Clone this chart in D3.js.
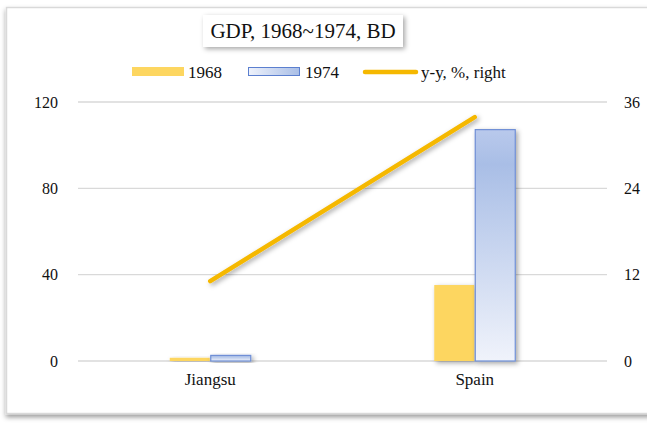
<!DOCTYPE html>
<html>
<head>
<meta charset="utf-8">
<script src="https://cdn.jsdelivr.net/npm/d3@7"></script>
</head>
<body style="margin:0;background:#fff">
<script>
// data
const categories = ['Jiangsu', 'Spain']
const gdp1968 = [1.5, 35.2]
const gdp1974 = [2.6, 107.2]
const yoy = [11.1, 33.9]
const leftTicks = [0, 40, 80, 120]
const rightTicks = [0, 12, 24, 36]

const width = 647
const height = 423
const serif = '"Liberation Serif"'

const svg = d3.select('body').append('svg')
  .attr('width', width)
  .attr('height', height)

const defs = svg.append('defs')

const shadow = defs.append('filter').attr('id', 'shadow')
  .attr('x', '-30%').attr('y', '-30%').attr('width', '160%').attr('height', '160%')
shadow.append('feDropShadow')
  .attr('dx', 2).attr('dy', 2).attr('stdDeviation', 2.5)
  .attr('flood-color', '#000').attr('flood-opacity', 0.35)

const frameShadow = defs.append('filter').attr('id', 'frameShadow')
  .attr('x', '-5%').attr('y', '-5%').attr('width', '110%').attr('height', '110%')
frameShadow.append('feDropShadow')
  .attr('dx', 0).attr('dy', 3).attr('stdDeviation', 2.5)
  .attr('flood-color', '#000').attr('flood-opacity', 0.4)

const blueGrad = defs.append('linearGradient').attr('id', 'blueGrad')
  .attr('x1', 0).attr('y1', 0).attr('x2', 0).attr('y2', 1)
blueGrad.append('stop').attr('offset', '0%').attr('stop-color', '#b9c9ec')
blueGrad.append('stop').attr('offset', '15%').attr('stop-color', '#a9bee6')
blueGrad.append('stop').attr('offset', '100%').attr('stop-color', '#f0f3fb')

const legendGrad = defs.append('linearGradient').attr('id', 'legendGrad')
  .attr('x1', 0).attr('y1', 0).attr('x2', 1).attr('y2', 0)
legendGrad.append('stop').attr('offset', '0%').attr('stop-color', '#eef2fb')
legendGrad.append('stop').attr('offset', '100%').attr('stop-color', '#a9bee6')

// frame
svg.append('rect')
  .attr('x', 6.5).attr('y', 7.5)
  .attr('width', 660).attr('height', 406)
  .attr('fill', '#fff')
  .attr('stroke', '#d9d9d9')
  .attr('stroke-width', 1.5)
  .attr('filter', 'url(#frameShadow)')

const margin = { left: 78, right: 40, top: 102, bottom: 62 }
const plotRight = width - margin.right
const plotBottom = height - margin.bottom

const x = d3.scaleBand().domain(categories).range([margin.left, plotRight])
const yLeft = d3.scaleLinear().domain([0, 120]).range([plotBottom, margin.top])
const yRight = d3.scaleLinear().domain([0, 36]).range([plotBottom, margin.top])

// gridlines
svg.append('g').selectAll('line').data(leftTicks).join('line')
  .attr('x1', margin.left).attr('x2', plotRight)
  .attr('y1', d => yLeft(d)).attr('y2', d => yLeft(d))
  .attr('stroke', '#d9d9d9').attr('stroke-width', 1.3)

// axes
const leftAxis = svg.append('g')
  .attr('transform', `translate(${margin.left - 20},0)`)
  .call(d3.axisLeft(yLeft).tickValues(leftTicks).tickSize(0).tickPadding(0))
leftAxis.select('.domain').remove()

const rightAxis = svg.append('g')
  .attr('transform', `translate(${plotRight + 17},0)`)
  .call(d3.axisRight(yRight).tickValues(rightTicks).tickSize(0).tickPadding(0))
rightAxis.select('.domain').remove()

const bottomAxis = svg.append('g')
  .attr('transform', `translate(0,${plotBottom})`)
  .call(d3.axisBottom(x).tickSize(0).tickPadding(12))
bottomAxis.select('.domain').remove()

svg.selectAll('.tick text')
  .style('font-family', serif)
  .style('font-size', '16px')
  .attr('fill', '#111')
bottomAxis.selectAll('.tick text').style('font-size', '17px')

// bars
const barW = 40
svg.append('g').selectAll('rect').data(categories).join('rect')
  .attr('x', d => x(d) + x.bandwidth() / 2 - barW - 0.5)
  .attr('y', (d, i) => yLeft(gdp1968[i]))
  .attr('width', barW)
  .attr('height', (d, i) => plotBottom - yLeft(gdp1968[i]))
  .attr('fill', '#fdd660')
  .attr('filter', 'url(#shadow)')

svg.append('g').selectAll('rect').data(categories).join('rect')
  .attr('x', d => x(d) + x.bandwidth() / 2 + 0.5)
  .attr('y', (d, i) => yLeft(gdp1974[i]))
  .attr('width', barW)
  .attr('height', (d, i) => plotBottom - yLeft(gdp1974[i]))
  .attr('fill', 'url(#blueGrad)')
  .attr('stroke', '#6f8fd6')
  .attr('stroke-width', 1.2)
  .attr('filter', 'url(#shadow)')

// line
const line = d3.line()
  .x((d, i) => x(categories[i]) + x.bandwidth() / 2)
  .y(d => yRight(d))

svg.append('path')
  .datum(yoy)
  .attr('d', line)
  .attr('fill', 'none')
  .attr('stroke', '#f5b800')
  .attr('stroke-width', 4.5)
  .attr('stroke-linecap', 'round')
  .attr('filter', 'url(#shadow)')

// title
const titleG = svg.append('g')
titleG.append('rect')
  .attr('x', 203).attr('y', 15)
  .attr('width', 200).attr('height', 32)
  .attr('fill', '#fff')
  .attr('filter', 'url(#shadow)')
titleG.append('text')
  .attr('x', 303).attr('y', 38)
  .attr('text-anchor', 'middle')
  .style('font-family', serif)
  .style('font-size', '21px')
  .attr('fill', '#111')
  .text('GDP, 1968~1974, BD')

// legend
const legend = svg.append('g').attr('transform', 'translate(0,72)')
legend.append('rect')
  .attr('x', 132).attr('y', -5).attr('width', 52).attr('height', 9)
  .attr('fill', '#fdd660')
legend.append('rect')
  .attr('x', 248.5).attr('y', -4.5).attr('width', 51).attr('height', 8)
  .attr('fill', 'url(#legendGrad)')
  .attr('stroke', '#5b7fcf').attr('stroke-width', 1)
legend.append('line')
  .attr('x1', 365).attr('x2', 416).attr('y1', 0).attr('y2', 0)
  .attr('stroke', '#f5b800').attr('stroke-width', 4.5)
  .attr('stroke-linecap', 'round')

const legendLabels = [{ x: 188, t: '1968' }, { x: 305, t: '1974' }, { x: 421, t: 'y-y, %, right' }]
legend.selectAll('text').data(legendLabels).join('text')
  .attr('x', d => d.x).attr('y', 5.5)
  .style('font-family', serif)
  .style('font-size', '17px')
  .attr('fill', '#111')
  .text(d => d.t)
</script>
</body>
</html>
